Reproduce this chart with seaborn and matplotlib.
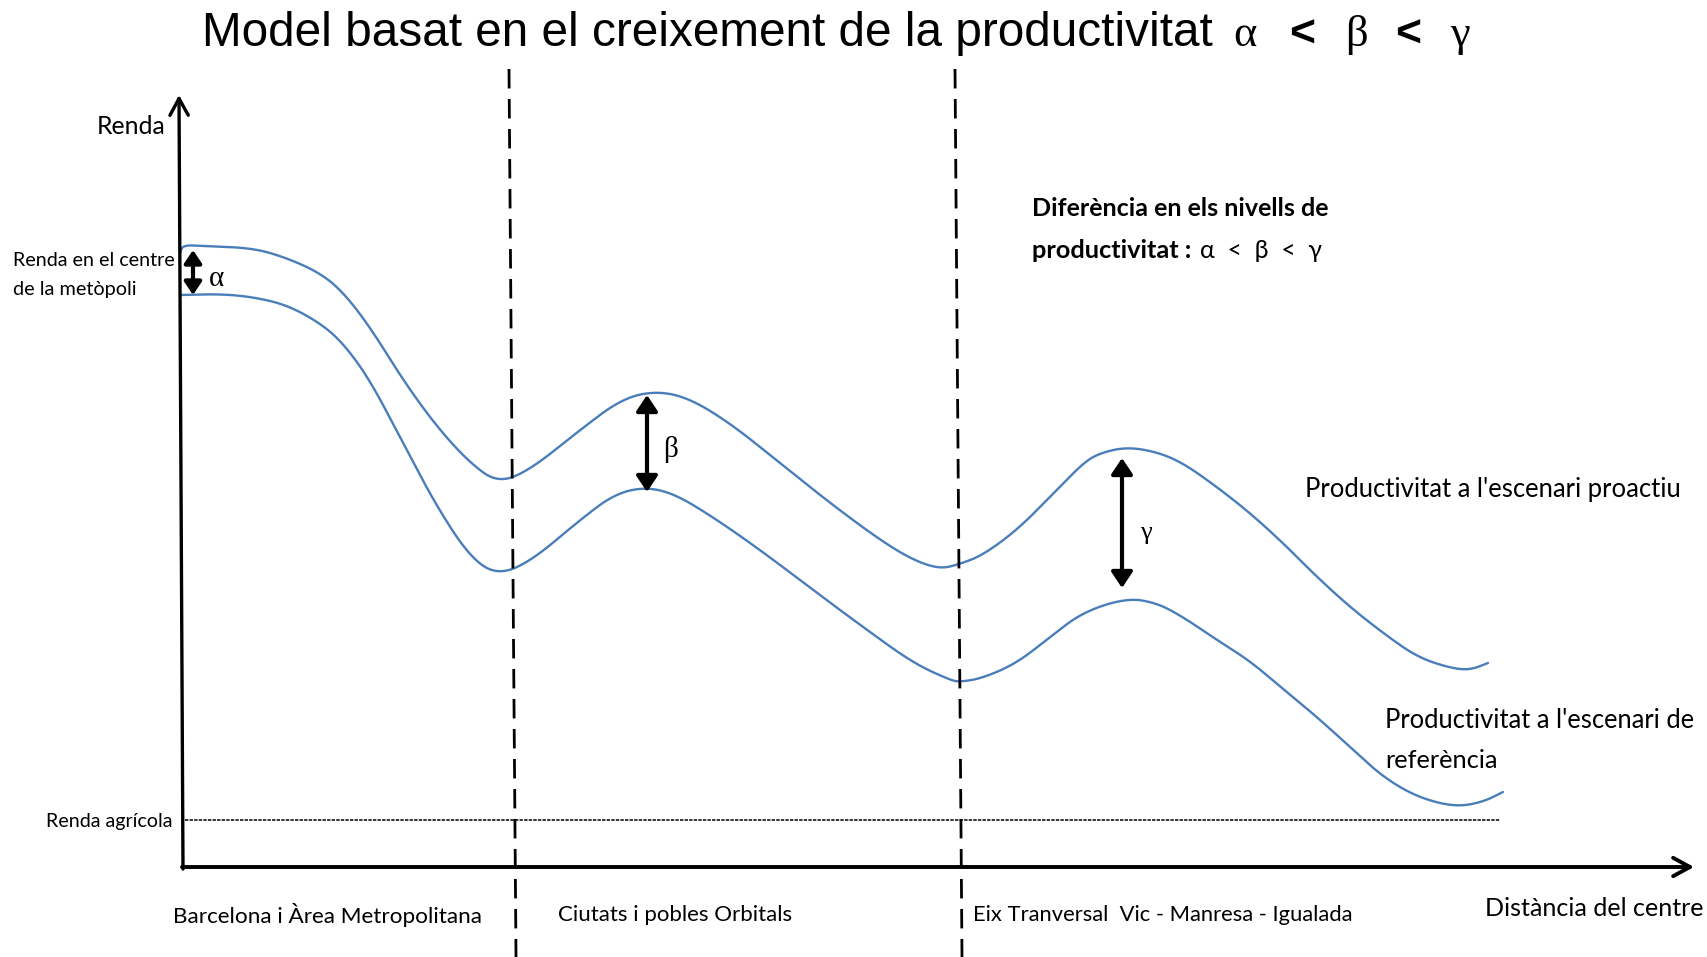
import numpy as np
import pandas as pd
import matplotlib
matplotlib.use("Agg")
import matplotlib.pyplot as plt
import seaborn as sns

# ---------------- data ----------------
# distance from centre (x) and income "renda" (y), arbitrary units
proactiu_x = [-0.3, 0.0, 2.0, 7.0, 10.4, 13.7, 16.0, 18.7, 22.0, 25.4, 28.7, 31.5, 34.7,
              39.7, 43.7, 47.0, 50.4, 54.7, 59.7, 64.7, 69.7, 73.0, 75.7, 77.7, 80.0,
              83.4, 86.7, 90.0, 91.7, 94.4, 97.4, 100.0, 103.4, 106.7, 110.0, 113.4,
              116.7, 120.0, 123.4, 126.7, 128.7, 130.5]
proactiu_y = [61.4, 62.2, 62.1, 61.9, 60.9, 59.4, 57.5, 54.0, 48.7, 44.0, 40.4, 38.4, 39.7,
              43.7, 46.7, 47.6, 47.0, 44.4, 40.4, 36.4, 32.7, 30.7, 29.8, 30.3, 31.2,
              33.7, 37.0, 40.4, 41.4, 42.0, 41.5, 40.4, 38.0, 35.4, 32.4, 29.0,
              26.0, 23.4, 21.0, 19.9, 19.7, 20.4]

referencia_x = [-0.3, 3.7, 7.0, 10.4, 13.7, 16.0, 18.7, 22.0, 25.4, 28.7, 31.4, 34.7, 39.7,
                43.0, 46.0, 49.0, 53.0, 58.0, 63.0, 68.0, 73.0, 76.7, 77.7, 80.0, 83.4,
                86.7, 90.0, 94.4, 97.4, 100.0, 103.4, 106.7, 110.0, 113.4, 116.7, 120.0,
                123.4, 127.2, 130.0, 132.0]
referencia_y = [57.2, 57.3, 57.0, 56.2, 54.4, 52.4, 48.7, 42.4, 36.0, 31.0, 29.2, 30.5, 34.7,
                37.2, 38.0, 37.4, 35.0, 31.5, 27.7, 24.0, 20.4, 18.7, 18.5, 18.9, 20.4,
                23.0, 25.5, 26.9, 26.4, 25.0, 22.7, 20.6, 17.8, 15.0, 12.0, 9.0,
                7.0, 6.0, 6.5, 7.5]

renda_agricola = 4.7
agricola_span = [0.2, 131.7]

zone_bounds = [32.6, 77.2]           # dashed boundaries between zones
zone_labels = ["Barcelona i Àrea Metropolitana", "Ciutats i pobles Orbitals",
               "Eix Tranversal  Vic - Manresa - Igualada"]

gap_x = [1.0, 46.4, 93.9]            # productivity gap arrows
gap_top = [61.7, 47.2, 40.9]
gap_bottom = [57.2, 37.5, 27.9]
gap_labels = ["α", "β", "γ"]

series_names = ["Productivitat a l'escenari proactiu",
                "Productivitat a l'escenari de\nreferència"]

# ---------------- figure ----------------
sns.set_theme(style="white")
SANS = ["Lato", "DejaVu Sans"]
plt.rcParams["font.family"] = SANS

W, H = 1708, 957
fig = plt.figure(figsize=(W / 100, H / 100), dpi=100)
ax = fig.add_axes([0, 0, 1, 1])
ax.set_xlim(-18.3, 152.5)
ax.set_ylim(-9.0, 86.7)
ax.axis("off")


def P(px, py):
    """pixel position of the reference -> data coordinates (for layout only)"""
    return (px - 183) / 10.0, (867 - py) / 10.0


def smooth(xs, ys, iters=5):
    """Chaikin corner cutting: renders the read points as a smooth stroke"""
    pts = np.column_stack([xs, ys]).astype(float)
    for _ in range(iters):
        q = 0.75 * pts[:-1] + 0.25 * pts[1:]
        r = 0.25 * pts[:-1] + 0.75 * pts[1:]
        mid = np.empty((2 * len(q), 2))
        mid[0::2] = q
        mid[1::2] = r
        pts = np.vstack([pts[:1], mid, pts[-1:]])
    return pts


frames = []
for name, xs, ys in [("proactiu", proactiu_x, proactiu_y),
                     ("referencia", referencia_x, referencia_y)]:
    s = smooth(xs, ys)
    frames.append(pd.DataFrame({"distancia": s[:, 0], "renda": s[:, 1], "escenari": name}))
df = pd.concat(frames, ignore_index=True)

BLUE = "#4A7EBB"
sns.lineplot(data=df, x="distancia", y="renda", hue="escenari", sort=False,
             estimator=None, palette=[BLUE, BLUE], linewidth=1.7, legend=False, ax=ax)

# renda agricola dotted line
ax.plot(agricola_span, [renda_agricola, renda_agricola], color="black", lw=1.1,
        ls=(0, (2.2, 0.8)))

# zone dashed lines (slightly slanted as in the reference)
for b in zone_bounds:
    ax.plot([b, b + 0.7], [79.8, -9.0], color="black", lw=2.0, ls=(0, (7, 3.8)))

# axes arrows
ax.annotate("", xy=(-0.4, 77.2), xytext=(0.0, -0.2),
            arrowprops=dict(arrowstyle="->,head_length=0.55,head_width=0.3",
                            lw=2.4, color="black", shrinkA=0, shrinkB=0,
                            mutation_scale=22))
ax.annotate("", xy=(151.1, 0.0), xytext=(-0.1, 0.0),
            arrowprops=dict(arrowstyle="->,head_length=0.55,head_width=0.3",
                            lw=2.8, color="black", shrinkA=0, shrinkB=0,
                            mutation_scale=22))

# gap arrows
for gx, gt, gb, ms in zip(gap_x, gap_top, gap_bottom, [13, 16, 16]):
    ax.annotate("", xy=(gx, gt), xytext=(gx, gb),
                arrowprops=dict(arrowstyle="<|-|>,head_length=0.6,head_width=0.4",
                                lw=3.0, color="black", shrinkA=0, shrinkB=0,
                                mutation_scale=ms))

SERIF = ["Liberation Serif", "DejaVu Serif"]
for (gx, gt, gb), lab, fs, dy in zip(zip(gap_x, gap_top, gap_bottom), gap_labels,
                                     [21, 21, 19], [-0.6, -0.6, -1.0]):
    ax.text(gx + 2.4, (gt + gb) / 2 + dy, lab, family=SERIF, fontsize=fs,
            ha="center", va="center", color="black")

renderer = fig.canvas.get_renderer()


def fit_text(s, x0, x1, yc, family=SANS, weight="normal", base=20):
    x, y = P(x0, yc)
    t = ax.text(x, y, s, family=family, fontsize=base, weight=weight,
                ha="left", va="center", color="black")
    w = t.get_window_extent(renderer).width
    t.set_fontsize(base * (x1 - x0) / w)
    return t


# title
fit_text("Model basat en el creixement de la productivitat", 202, 1215, 33,
         family=["Liberation Sans", "DejaVu Sans"], base=32)
for ch, cx, wt in [("α", 1245, "normal"), ("<", 1302, "bold"), ("β", 1356, "normal"),
                   ("<", 1408, "bold"), ("γ", 1460, "normal")]:
    x, y = P(cx, 35)
    ax.text(x, y, ch, family=SERIF if ch != "<" else ["Liberation Sans", "DejaVu Sans"],
            fontsize=32, weight=wt, ha="center", va="center", color="black")

# axis labels and annotations
fit_text("Renda", 97, 166, 127)
fit_text("Renda en el centre", 13, 175, 260)
fit_text("de la metòpoli", 13, 137, 290)
fit_text("Renda agrícola", 46, 172, 821)
fit_text("Distància del centre", 1485, 1705, 908)

for lab, (x0, x1) in zip(zone_labels, [(173, 481), (558, 792), (973, 1354)]):
    fit_text(lab, x0, x1, 915)

fit_text("Diferència en els nivells de", 1032, 1328, 209, weight="bold")
fit_text("productivitat :", 1032, 1192, 251, weight="bold")
fit_text("α  <  β  <  γ", 1200, 1322, 251)

fit_text(series_names[0], 1305, 1682, 490)
l1, l2 = series_names[1].split("\n")
fit_text(l1, 1385, 1695, 721)
fit_text(l2, 1385, 1498, 760)

fig.savefig("out.png", dpi=100, facecolor="white")
